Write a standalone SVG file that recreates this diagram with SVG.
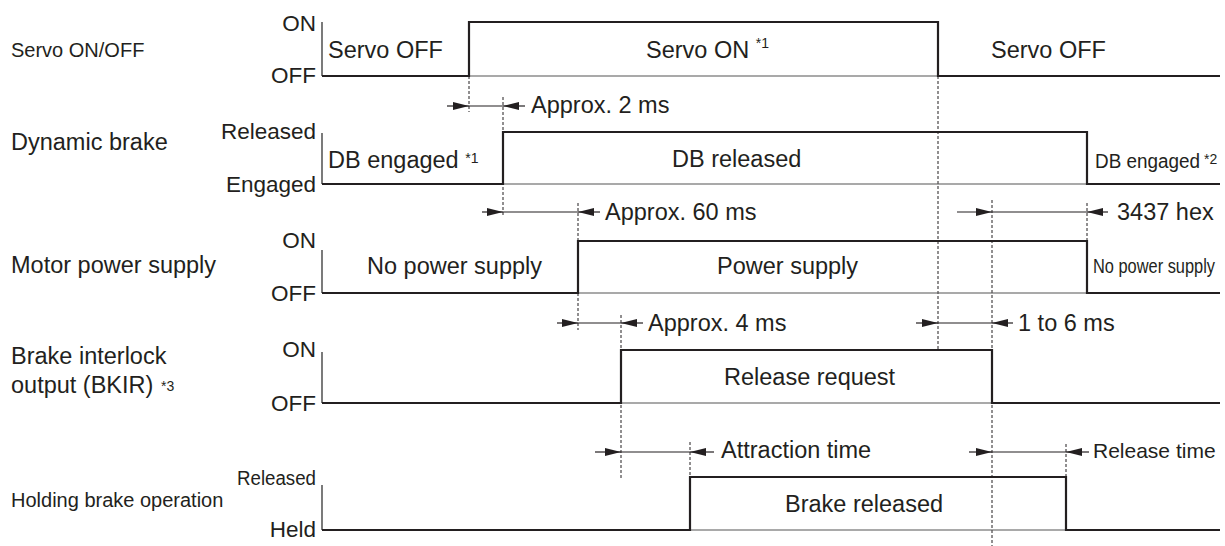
<svg xmlns="http://www.w3.org/2000/svg" width="1225" height="546" viewBox="0 0 1225 546">
<style>
text{font-family:"Liberation Sans",Arial,sans-serif;fill:#231f20}
.lbl{font-size:23.5px}
.sm{font-size:20px}
.ax{font-size:22.5px;text-anchor:end}
.in{font-size:23.5px}
.sup{font-size:14px}
.dim{font-size:23.5px}
.sig{fill:none;stroke:#231f20;stroke-width:2.2}
.base{fill:none;stroke:#555;stroke-width:1.2}
.axis{fill:none;stroke:#333;stroke-width:1.3}
.dot{fill:none;stroke:#231f20;stroke-width:1;stroke-dasharray:3,2}
.dl{fill:none;stroke:#231f20;stroke-width:1.2}
.da{fill:none;stroke:#231f20;stroke-width:1.2;marker-end:url(#ah)}
</style>
<defs>
<marker id="ah" markerUnits="userSpaceOnUse" markerWidth="17" markerHeight="9" refX="16" refY="4" orient="auto">
<path d="M0,0 L16,4 L0,8 Z" fill="#231f20"/>
</marker>
</defs>
<rect width="1225" height="546" fill="#fff"/>

<g id="connectors">
<path class="dot" d="M469,76 V112"/>
<path class="dot" d="M503,97 V217"/>
<path class="dot" d="M578,203 V330"/>
<path class="dot" d="M621,315 V480"/>
<path class="dot" d="M690,442 V477"/>
<path class="dot" d="M938,76 V350"/>
<path class="dot" d="M992,200 V546"/>
<path class="dot" d="M1087,203 V241"/>
<path class="dot" d="M1066,444 V477"/>

<path class="da" d="M447,106 H469"/><path class="dl" d="M469,106 H503"/><path class="da" d="M525,106 H503"/>
<path class="da" d="M482,212 H503"/><path class="dl" d="M503,212 H578"/><path class="da" d="M600,212 H578"/>
<path class="da" d="M557,323 H578"/><path class="dl" d="M578,323 H621"/><path class="da" d="M643,323 H621"/>
<path class="da" d="M957,212 H992"/><path class="dl" d="M992,212 H1087"/><path class="da" d="M1108,212 H1087"/>
<path class="da" d="M916,323 H938"/><path class="dl" d="M938,323 H992"/><path class="da" d="M1013,323 H992"/>
<path class="da" d="M595,452 H621"/><path class="dl" d="M621,452 H690"/><path class="da" d="M714,452 H690"/>
<path class="da" d="M969,452 H992"/><path class="dl" d="M992,452 H1066"/><path class="da" d="M1089,452 H1066"/>

<text class="dim" x="531" y="113">Approx. 2 ms</text>
<text class="dim" x="605" y="220">Approx. 60 ms</text>
<text class="dim" x="648" y="331">Approx. 4 ms</text>
<text class="dim" x="1117" y="220">3437 hex</text>
<text class="dim" x="1018" y="331">1 to 6 ms</text>
<text class="dim" x="721" y="458">Attraction time</text>
<text x="1093" y="458" font-size="21">Release time</text>
</g>

<g id="servo">
<text class="sm" x="11" y="57">Servo ON/OFF</text>
<text class="ax" x="316" y="31">ON</text>
<text class="ax" x="316" y="83">OFF</text>
<path class="axis" d="M322,22 V76"/>
<path class="base" d="M322,76 H1220"/>
<path class="sig" d="M322,76 H469 V22 H938 V76 H1220"/>
<text class="in" x="328" y="58">Servo OFF</text>
<text class="in" x="646" y="58">Servo ON <tspan class="sup" y="48">*1</tspan></text>
<text class="in" x="991" y="58">Servo OFF</text>
</g>

<g id="dynamic-brake">
<text class="lbl" x="11" y="150">Dynamic brake</text>
<text class="ax" x="316" y="139">Released</text>
<text class="ax" x="316" y="192">Engaged</text>
<path class="axis" d="M322,133 V184"/>
<path class="base" d="M322,184 H1220"/>
<path class="sig" d="M322,184 H503 V132 H1087 V184 H1220"/>
<text class="in" x="328" y="168">DB engaged <tspan class="sup" y="163">*1</tspan></text>
<text class="in" x="672" y="167">DB released</text>
<text x="1095" y="168" font-size="20" textLength="105" lengthAdjust="spacingAndGlyphs">DB engaged</text>
<text class="sup" x="1204" y="164">*2</text>
</g>

<g id="motor-power">
<text class="lbl" x="11" y="273">Motor power supply</text>
<text class="ax" x="316" y="248">ON</text>
<text class="ax" x="316" y="301">OFF</text>
<path class="axis" d="M322,250 V293"/>
<path class="base" d="M322,293 H1220"/>
<path class="sig" d="M322,293 H578 V241 H1087 V293 H1220"/>
<text class="in" x="367" y="274">No power supply</text>
<text class="in" x="717" y="274">Power supply</text>
<text transform="translate(1093,273) scale(0.82,1)" x="0" y="0" font-size="20">No power supply</text>
</g>

<g id="bkir">
<text class="lbl" x="11" y="364">Brake interlock</text>
<text class="lbl" x="11" y="393">output (BKIR)</text>
<text class="sup" x="161" y="391">*3</text>
<text class="ax" x="316" y="357">ON</text>
<text class="ax" x="316" y="411">OFF</text>
<path class="axis" d="M322,352 V403"/>
<path class="base" d="M322,403 H1220"/>
<path class="sig" d="M322,403 H621 V350 H992 V403 H1220"/>
<text class="in" x="724" y="385">Release request</text>
</g>

<g id="holding-brake">
<text class="sm" x="11" y="507">Holding brake operation</text>
<text x="316" y="485" font-size="20" text-anchor="end" textLength="79" lengthAdjust="spacingAndGlyphs">Released</text>
<text class="ax" x="316" y="537">Held</text>
<path class="axis" d="M322,485 V530"/>
<path class="base" d="M322,530 H1220"/>
<path class="sig" d="M322,530 H690 V477 H1066 V530 H1220"/>
<text class="in" x="785" y="512">Brake released</text>
</g>
</svg>
